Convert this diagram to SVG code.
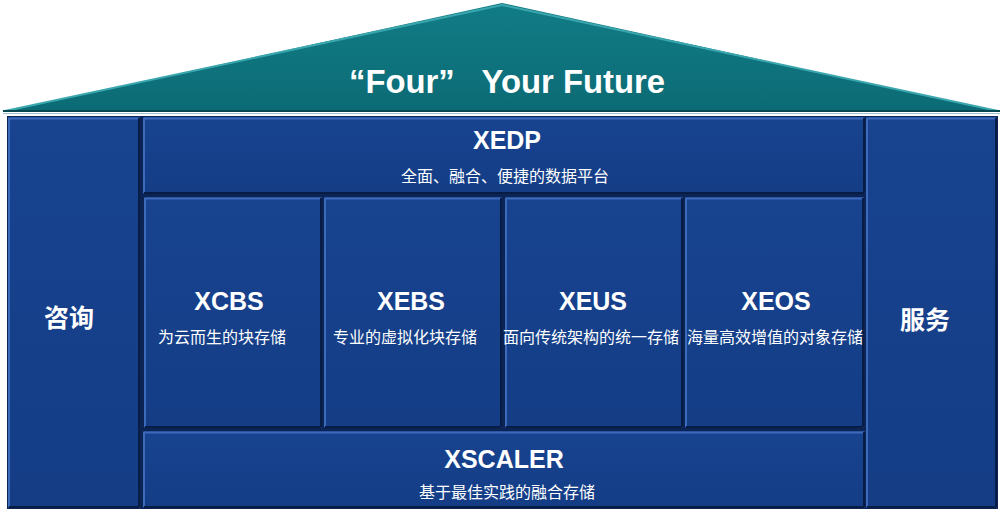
<svg xmlns="http://www.w3.org/2000/svg" width="1003" height="513" viewBox="0 0 1003 513">
  <style>
    .panel { fill: url(#pg); }
    .hl { stroke: #3c6bbb; stroke-width: 2; fill: none; }
    .sh { stroke: #071d46; stroke-width: 2; fill: none; }
    .t { font-family: "Liberation Sans", Arial, sans-serif; font-weight: bold; fill: #ffffff; text-anchor: middle; }
    .cjkb { font-family: "Noto Sans CJK SC", sans-serif; font-weight: bold; fill: #ffffff; text-anchor: middle; font-size: 25px; }
    .s { font-family: "Liberation Sans", "Noto Sans CJK SC", sans-serif; fill: #ffffff; text-anchor: middle; font-size: 16px; }
  </style>
  <defs>
    <linearGradient id="pg" x1="0" y1="0" x2="0" y2="1">
      <stop offset="0" stop-color="#18438f"/>
      <stop offset="1" stop-color="#143d86"/>
    </linearGradient>
    <linearGradient id="rg" x1="0" y1="0" x2="0" y2="1">
      <stop offset="0" stop-color="#117c86"/>
      <stop offset="1" stop-color="#0c6b75"/>
    </linearGradient>
  </defs>
  <rect width="1003" height="513" fill="#ffffff"/>
  <g id="roof">
    <polygon points="3,112 502,3 1000,112" fill="url(#rg)"/>
    <polyline points="5,111 502,5 998,111" fill="none" stroke="#3aa7ae" stroke-width="2"/>
    <line x1="3" y1="111" x2="1000" y2="111" stroke="#06474f" stroke-width="2"/>
    <line x1="3" y1="113.5" x2="1000" y2="113.5" stroke="#9fc4d0" stroke-width="1"/>
    <text class="t" x="507" y="93" font-size="34" xml:space="preserve" style="white-space:pre" textLength="316" lengthAdjust="spacingAndGlyphs">“Four”   Your Future</text>
  </g>
  <rect id="body" x="7" y="116" width="991" height="393" fill="#0b2454"/>
  <g id="consult">
    <rect class="panel" x="8" y="117" width="132" height="391"/>
    <path class="hl" d="M9,118.5 H139 M9,118 V507"/>
    <path class="sh" d="M139,118 V507 M9,507 H139"/>
    <text class="cjkb" x="69" y="327">咨询</text>
  </g>
  <g id="service">
    <rect class="panel" x="866" y="117" width="131" height="391"/>
    <path class="hl" d="M867,118.5 H996 M867,118 V507"/>
    <path class="sh" d="M996,118 V507 M867,507 H996"/>
    <text class="cjkb" x="925" y="329">服务</text>
  </g>
  <g id="xedp">
    <rect class="panel" x="143" y="117" width="722" height="77"/>
    <path class="hl" d="M144,118.5 H864 M144,118 V193"/>
    <path class="sh" d="M864,118 V193 M144,193 H864"/>
    <text class="t" x="507" y="149" font-size="25">XEDP</text>
    <text class="s" x="505" y="182">全面、融合、便捷的数据平台</text>
  </g>
  <g id="xcbs">
    <rect class="panel" x="144" y="197" width="178" height="231"/>
    <path class="hl" d="M145,198.5 H321 M145,198 V427"/>
    <path class="sh" d="M321,198 V427 M145,427 H321"/>
    <text class="t" x="229" y="310" font-size="25">XCBS</text>
    <text class="s" x="222" y="343">为云而生的块存储</text>
  </g>
  <g id="xebs">
    <rect class="panel" x="324" y="197" width="178" height="231"/>
    <path class="hl" d="M325,198.5 H501 M325,198 V427"/>
    <path class="sh" d="M501,198 V427 M325,427 H501"/>
    <text class="t" x="411" y="310" font-size="25">XEBS</text>
    <text class="s" x="405" y="343">专业的虚拟化块存储</text>
  </g>
  <g id="xeus">
    <rect class="panel" x="505" y="197" width="178" height="231"/>
    <path class="hl" d="M506,198.5 H682 M506,198 V427"/>
    <path class="sh" d="M682,198 V427 M506,427 H682"/>
    <text class="t" x="593" y="310" font-size="25">XEUS</text>
    <text class="s" x="591" y="343">面向传统架构的统一存储</text>
  </g>
  <g id="xeos">
    <rect class="panel" x="685" y="197" width="179" height="231"/>
    <path class="hl" d="M686,198.5 H863 M686,198 V427"/>
    <path class="sh" d="M863,198 V427 M686,427 H863"/>
    <text class="t" x="776" y="310" font-size="25">XEOS</text>
    <text class="s" x="775" y="343">海量高效增值的对象存储</text>
  </g>
  <g id="xscaler">
    <rect class="panel" x="143" y="431" width="722" height="77"/>
    <path class="hl" d="M144,432.5 H864 M144,432 V507"/>
    <path class="sh" d="M864,432 V507 M144,507 H864"/>
    <text class="t" x="504" y="468" font-size="25">XSCALER</text>
    <text class="s" x="507" y="498">基于最佳实践的融合存储</text>
  </g>
  <g id="connectors"/>
</svg>
